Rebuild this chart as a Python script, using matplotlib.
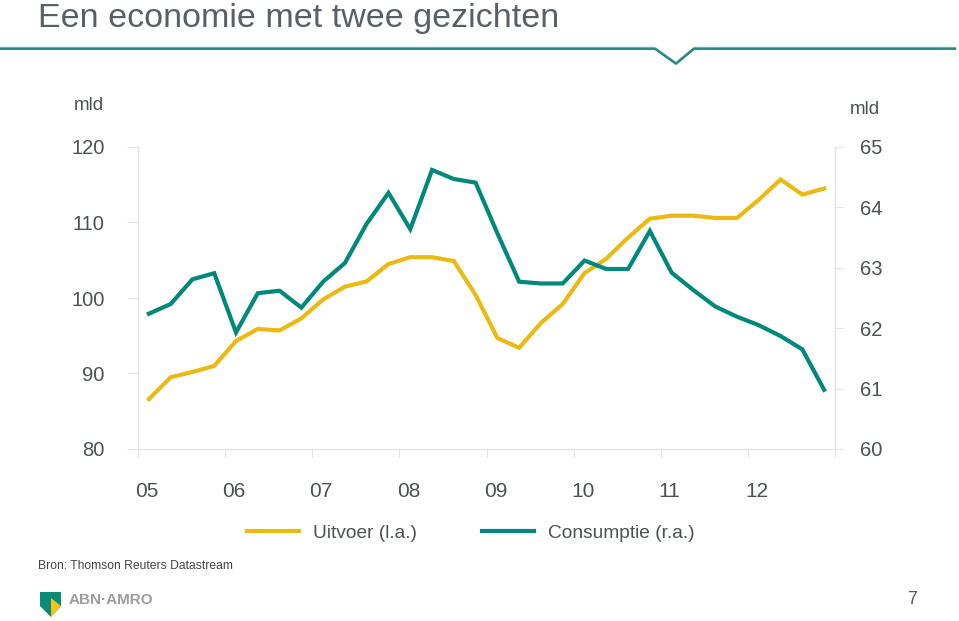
import matplotlib
matplotlib.use("Agg")
import matplotlib.pyplot as plt
from matplotlib.lines import Line2D
from matplotlib.patches import Polygon
from matplotlib.transforms import ScaledTranslation

plt.rcParams["font.family"] = ["Liberation Sans", "DejaVu Sans"]

YELLOW, TEAL, GREY, AXC = "#EBBA12", "#00897B", "#4b5056", "#e4e4e4"

# quarterly data 2005Q1 - 2012Q4
quarters = [2005 + (i + 0.5) / 4 for i in range(32)]
uitvoer = [86.6, 89.5, 90.2, 91.0, 94.3, 95.9, 95.7, 97.3,
           99.8, 101.5, 102.2, 104.5, 105.4, 105.4, 104.9, 100.4,
           94.7, 93.4, 96.7, 99.2, 103.3, 105.2, 108.0, 110.5,
           110.9, 110.9, 110.6, 110.6, 113.0, 115.7, 113.7, 114.5]
consumptie = [62.24, 62.40, 62.81, 62.91, 61.93, 62.58, 62.62, 62.34,
              62.77, 63.08, 63.73, 64.24, 63.64, 64.62, 64.47, 64.41,
              63.57, 62.77, 62.74, 62.74, 63.12, 62.98, 62.98, 63.61,
              62.92, 62.63, 62.36, 62.19, 62.05, 61.87, 61.65, 60.98]
year_ticks = list(range(2005, 2014))
year_labels = ["05", "06", "07", "08", "09", "10", "11", "12", ""]
left_ticks = [80, 90, 100, 110, 120]
right_ticks = [60, 61, 62, 63, 64, 65]

W, H = 959, 621
fig = plt.figure(figsize=(W / 100, H / 100), dpi=100)
ax = fig.add_axes([138 / W, 1 - 449 / H, (835 - 138) / W, (449 - 147) / H])
ax2 = ax.twinx()

l1, = ax.plot(quarters, uitvoer, color=YELLOW, lw=3, solid_joinstyle="miter",
              label="Uitvoer (l.a.)", zorder=3)
l2, = ax2.plot(quarters, consumptie, color=TEAL, lw=3, solid_joinstyle="miter",
               label="Consumptie (r.a.)", zorder=3)

ax.set_xlim(2005, 2013)
ax.set_ylim(80, 120)
ax2.set_ylim(60, 65)
ax.set_yticks(left_ticks)
ax2.set_yticks(right_ticks)
ax.set_xticks(year_ticks)
ax.set_xticklabels(year_labels)

for a in (ax, ax2):
    a.spines["top"].set_visible(False)
    for s in a.spines.values():
        s.set_color(AXC)
        s.set_linewidth(1)
    a.patch.set_visible(False)
ax2.spines["left"].set_visible(False)
ax2.spines["bottom"].set_visible(False)
ax.spines["right"].set_visible(False)

ax.tick_params(axis="y", length=8, color=AXC, pad=16, labelsize=14.5, labelcolor=GREY)
ax.tick_params(axis="x", length=6, color=AXC, pad=18, labelsize=15, labelcolor=GREY)
ax2.tick_params(axis="y", length=6, color=AXC, pad=12, labelsize=14.5, labelcolor=GREY)
off = ScaledTranslation(9 / 100, 0, fig.dpi_scale_trans)
for lab in ax.get_xticklabels():
    lab.set_transform(lab.get_transform() + off)

fig.text(104 / W, 1 - 106 / H, "mld", ha="right", va="center", fontsize=13.5, color=GREY)
fig.text(850 / W, 1 - 109 / H, "mld", ha="left", va="center", fontsize=13.5, color=GREY)

fig.legend(handles=[l1, l2], loc="center left", bbox_to_anchor=(247 / W, 1 - 533 / H),
           ncol=2, frameon=False, fontsize=13.8, handlelength=2.7, handletextpad=0.73,
           columnspacing=3.4, borderpad=0, borderaxespad=0, labelcolor=GREY)

# title and header rule with notch
fig.text(38 / W, 1 - 18.5 / H, "Een economie met twee gezichten", ha="left", va="center",
         fontsize=24.5, color="#586067")
hx = [0, 655, 676, 694, 955]
hy = [47.5, 47.5, 62.5, 47.5, 47.5]
fig.add_artist(Line2D([x / W for x in hx], [1 - y / H for y in hy], color="#b9e6e4", lw=1.2,
                      transform=fig.transFigure))
fig.add_artist(Line2D([x / W for x in hx], [1 - (y + 1.2) / H for y in hy], color="#2a8680",
                      lw=1.8, transform=fig.transFigure))

# footer
fig.text(38 / W, 1 - 566 / H, "Bron: Thomson Reuters Datastream", ha="left", va="center",
         fontsize=8.7, color="#444444")
fig.text(912 / W, 1 - 600 / H, "7", ha="center", va="center", fontsize=13, color="#555555")
fig.text(69 / W, 1 - 600 / H, "ABN·AMRO", ha="left", va="center", fontsize=11,
         fontweight="bold", color="#9c9c9c")


def px(pts):
    return [(x / W, 1 - y / H) for x, y in pts]


fig.add_artist(Polygon(px([(40, 592), (61, 592), (61, 606), (51, 617), (40, 606)]),
                       closed=True, fc="#0a8a78", ec="none", transform=fig.transFigure))
fig.add_artist(Polygon(px([(51, 598), (61, 606), (51, 617)]), closed=True,
                       fc="#f2c318", ec="none", transform=fig.transFigure))

fig.savefig("out.png", dpi=100)
